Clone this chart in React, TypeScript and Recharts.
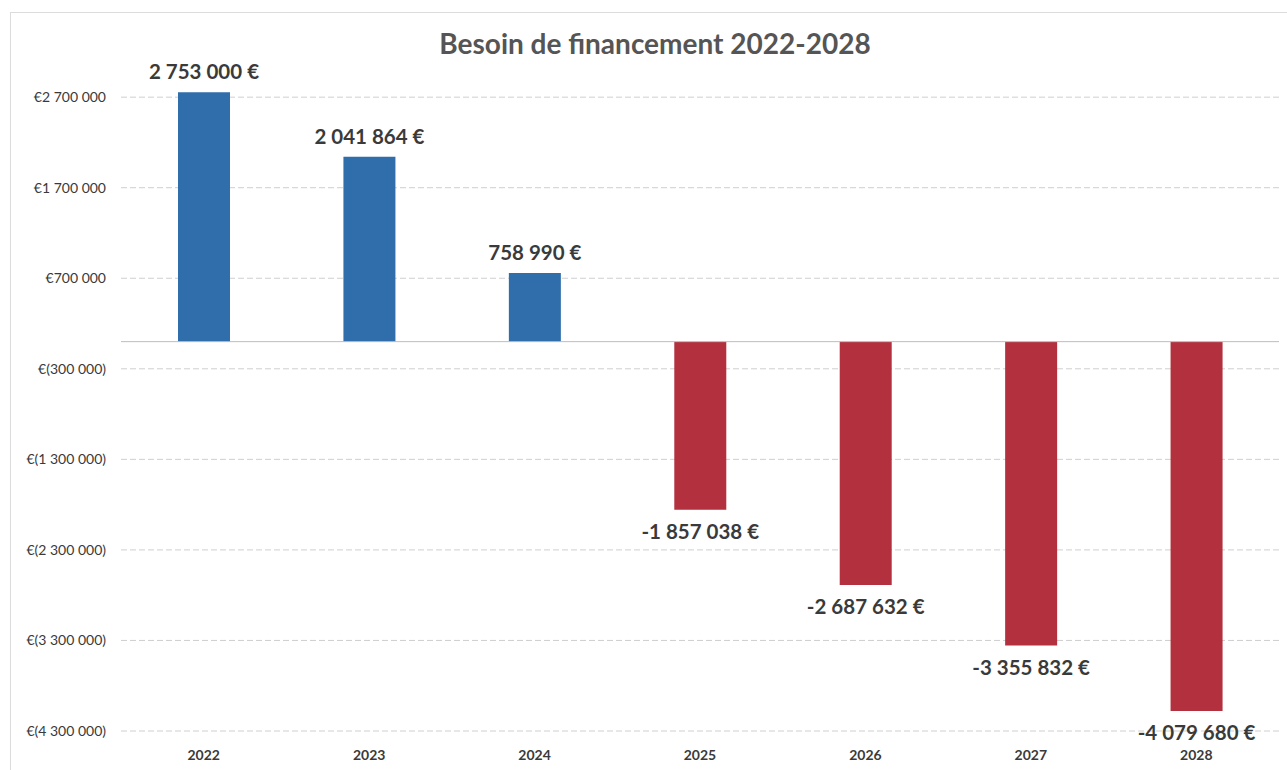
import React from "react"
import { BarChart, Bar, XAxis, YAxis, CartesianGrid, ReferenceLine, Cell, LabelList } from "recharts"

const years = ["2022", "2023", "2024", "2025", "2026", "2027", "2028"]
const besoin = [2753000, 2041864, 758990, -1857038, -2687632, -3355832, -4079680]
const yTicks = [2700000, 1700000, 700000, -300000, -1300000, -2300000, -3300000, -4300000]

const data = years.map((year, i) => ({ year, value: besoin[i] }))

const BLUE = "#2f6dab"
const RED = "#b3303e"
const FONT = "Lato, 'Open Sans', sans-serif"

const spaced = (n: number) => Math.round(n).toString().replace(/\B(?=(\d{3})+(?!\d))/g, " ")

const tickFmt = (v: number) => (v < 0 ? `€(${spaced(-v)})` : `€${spaced(v)}`)

const ValueLabel = (props: any) => {
  const { x, y, width, height, value } = props
  const top = Math.min(y, y + height)
  const bottom = Math.max(y, y + height)
  const cx = x + width / 2
  const ty = value >= 0 ? top - 21 : bottom + 21
  const txt = (value < 0 ? "-" : "") + spaced(Math.abs(value)) + " €"
  return (
    <text x={cx} y={ty} textAnchor="middle" dominantBaseline="central" fill="#3a3a3a"
      fontFamily={FONT} fontWeight={700} fontSize={20.5}>
      {txt}
    </text>
  )
}

export default function App() {
  return (
    <div style={{ position: "absolute", left: 0, top: 0, width: 1287, height: 770, background: "#fff" }}>
      <div style={{ position: "absolute", left: 10, top: 12, width: 1277, height: 758, borderLeft: "1px solid #dcdcdc", borderTop: "1px solid #dcdcdc" }} />
      <div style={{ position: "absolute", left: 0, top: 26, width: 1310, textAlign: "center", fontFamily: FONT, fontWeight: 700, fontSize: 28, color: "#555" }}>
        Besoin de financement 2022-2028
      </div>
      <div style={{ position: "absolute", left: 0, top: 0 }}>
        <BarChart width={1287} height={770} data={data} margin={{ top: 70, right: 8, left: 0, bottom: 7 }} barCategoryGap="34%">
          <CartesianGrid vertical={false} horizontalValues={yTicks} stroke="#cfcfcf" strokeDasharray="6 3" />
          <XAxis dataKey="year" axisLine={false} tickLine={false} tickSize={0} tickMargin={19} height={32}
            tick={{ fill: "#3a3a3a", fontSize: 14, fontWeight: 700, fontFamily: FONT }} />
          <YAxis type="number" domain={[-4300000, 3000000]} ticks={yTicks} interval={0} width={121}
            axisLine={false} tickLine={false} tickSize={0} tickMargin={15} tickFormatter={tickFmt}
            tick={{ fill: "#3a3a3a", fontSize: 14, fontFamily: FONT }} />
          <ReferenceLine y={0} stroke="#bdbdbd" />
          <Bar dataKey="value" barSize={52} isAnimationActive={false}>
            {data.map((d) => (
              <Cell key={d.year} fill={d.value >= 0 ? BLUE : RED} />
            ))}
            <LabelList dataKey="value" content={ValueLabel} />
          </Bar>
        </BarChart>
      </div>
    </div>
  )
}
